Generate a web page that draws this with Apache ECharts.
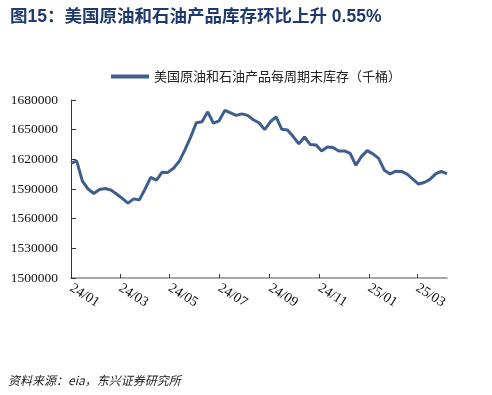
<!DOCTYPE html>
<html>
<head>
<meta charset="utf-8">
<script src="https://cdn.jsdelivr.net/npm/echarts@6/dist/echarts.min.js"></script>
<style>
html,body{margin:0;padding:0;background:#fff;}
#chart{width:492px;height:395px;}
</style>
</head>
<body>
<div id="chart"></div>
<script>
var weekDates = [
'2024-01-05','2024-01-12','2024-01-19','2024-01-26','2024-02-02','2024-02-09','2024-02-16','2024-02-23',
'2024-03-01','2024-03-08','2024-03-15','2024-03-22','2024-03-29','2024-04-05','2024-04-12','2024-04-19','2024-04-26',
'2024-05-03','2024-05-10','2024-05-17','2024-05-24','2024-05-31','2024-06-07','2024-06-14','2024-06-21','2024-06-28',
'2024-07-05','2024-07-12','2024-07-19','2024-07-26','2024-08-02','2024-08-09','2024-08-16','2024-08-23','2024-08-30',
'2024-09-06','2024-09-13','2024-09-20','2024-09-27','2024-10-04','2024-10-11','2024-10-18','2024-10-25',
'2024-11-01','2024-11-08','2024-11-15','2024-11-22','2024-11-29','2024-12-06','2024-12-13','2024-12-20','2024-12-27',
'2025-01-03','2025-01-10','2025-01-17','2025-01-24','2025-01-31','2025-02-07','2025-02-14','2025-02-21','2025-02-28',
'2025-03-07','2025-03-14','2025-03-21','2025-03-28','2025-04-04','2025-04-11'
];
var stockValues = [
1616000,1618400,1598000,1590000,1585500,1589500,1590500,1589000,
1585000,1580500,1575700,1580000,1579000,1590000,1601700,1599000,1607000,
1606800,1611000,1618000,1629500,1642500,1657000,1658000,1668000,1656500,
1659000,1669500,1667000,1664500,1666000,1664500,1660000,1657000,1650000,
1658000,1663000,1650400,1649600,1643000,1635600,1642600,1634900,
1634600,1628500,1632500,1632000,1628500,1628500,1626000,1614000,1623000,
1628800,1625500,1621000,1609000,1605300,1608000,1607800,1605000,1600000,
1595000,1596600,1599700,1605300,1607800,1605300
];
var tickDates = ['2024-01-05','2024-03-05','2024-05-05','2024-07-05','2024-09-05','2024-11-05','2025-01-05','2025-03-05'];
var tickLabels = ['24/01','24/03','24/05','24/07','24/09','24/11','25/01','25/03'];
var yTicks = [1500000,1530000,1560000,1590000,1620000,1650000,1680000];

var seriesName = '美国原油和石油产品每周期末库存（千桶）';
function ts(s){ var p = s.split('-'); return Date.UTC(+p[0], +p[1]-1, +p[2]); }
var t0 = ts(weekDates[0]);
function dayOf(s){ return Math.round((ts(s) - t0) / 86400000); }
var tickDays = tickDates.map(dayOf);
var labelMap = {};
tickDays.forEach(function(d,i){ labelMap[d] = tickLabels[i]; });
var seriesData = weekDates.map(function(d,i){ return [dayOf(d), stockValues[i]]; });

var chart = echarts.init(document.getElementById('chart'), null, {renderer:'canvas'});
chart.setOption({
  animation:false,
  backgroundColor:'#fff',
  title:{
    text:'图15：美国原油和石油产品库存环比上升 0.55%',
    left:5, top:3,
    textStyle:{fontSize:17.5, fontWeight:'bold', color:'#1f3a6e', fontFamily:'Liberation Sans, Noto Sans CJK SC'}
  },
  legend:{
    left:106, top:65,
    icon:'rect', itemWidth:38, itemHeight:4, itemGap:10,
    textStyle:{fontSize:13, color:'#222', fontFamily:'Noto Sans CJK SC'},
    data:[seriesName]
  },
  grid:{left:71, right:45, top:100, bottom:117, containLabel:false},
  xAxis:{
    type:'value',
    min:0, max:dayOf(weekDates[weekDates.length-1]),
    axisLine:{show:true, lineStyle:{color:'#8a8a8a', width:1.5}},
    axisTick:{show:true, inside:true, length:4, lineStyle:{color:'#333'}, customValues:tickDays},
    axisLabel:{
      customValues:tickDays, rotate:-32, margin:9,
      fontSize:14, color:'#111', fontFamily:'Liberation Serif',
      formatter:function(v){ return labelMap[v] || ''; }
    },
    splitLine:{show:false}
  },
  yAxis:{
    type:'value', min:yTicks[0], max:yTicks[yTicks.length-1], interval:30000,
    axisLine:{show:true, lineStyle:{color:'#333', width:1}},
    axisTick:{show:true, inside:true, length:5, lineStyle:{color:'#333'}},
    axisLabel:{fontSize:13.5, color:'#111', margin:13, fontFamily:'Liberation Serif',
      formatter:function(v){ return String(v); }},
    splitLine:{show:false}
  },
  graphic:[{
    type:'text', left:8, top:374,
    style:{text:'资料来源：eia，东兴证券研究所', fontSize:12, fontStyle:'italic', fill:'#222', fontFamily:'Noto Sans CJK SC'}
  }],
  series:[{
    name:seriesName, type:'line', data:seriesData,
    showSymbol:false, symbol:'none',
    lineStyle:{color:'#3e5f8e', width:3},
    itemStyle:{color:'#3e5f8e'}
  }]
});
</script>
</body>
</html>
